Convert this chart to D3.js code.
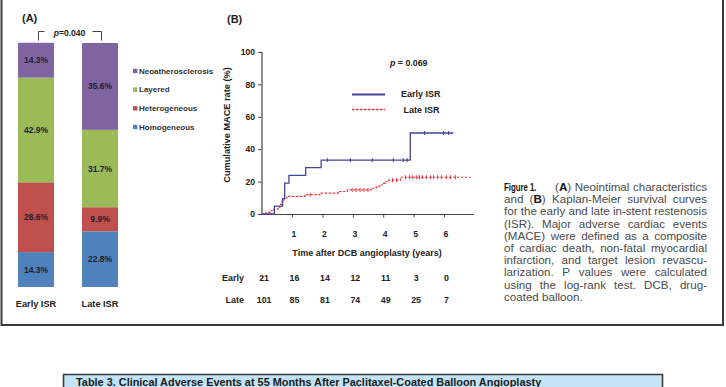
<!DOCTYPE html>
<html><head><meta charset="utf-8">
<script src="https://cdn.jsdelivr.net/npm/d3@7"></script>
<style>html,body{margin:0;padding:0;background:#fff;overflow:hidden;} svg{display:block;font-family:"Liberation Sans",Arial,Helvetica,sans-serif;}</style>
</head><body>
<svg id="c" width="726" height="387"></svg>
<script>
// ---------- Panel A data ----------
const categories = ["Early ISR", "Late ISR"];
const plaqueTypes = ["Homogeneous", "Heterogeneous", "Layered", "Neoatherosclerosis"]; // bottom -> top
const homogeneous = [14.3, 22.8];
const heterogeneous = [28.6, 9.9];
const layered = [42.9, 31.7];
const neoatherosclerosis = [14.3, 35.6];
const legendOrder = ["Neoatherosclerosis", "Layered", "Heterogeneous", "Homogeneous"];
const pValueA = "0.040";

// ---------- Panel B data ----------
const yearTicks = [1, 2, 3, 4, 5, 6];
const rateTicks = [0, 20, 40, 60, 80, 100];
const earlyTimes = [0, 0.42, 0.69, 0.76, 0.90, 1.45, 1.96, 4.89, 6.31];
const earlyRates = [0, 4.8, 9.5, 19.0, 23.8, 28.6, 33.3, 50.0, 50.0];
const earlyCensorTimes = [2.16, 2.92, 3.64, 4.33, 4.66, 4.79, 5.36, 5.98, 6.15];
const lateTimes = [0, 0.14, 0.27, 0.41, 0.54, 0.60, 0.67, 0.74, 0.83, 1.43, 1.92, 2.52, 2.82, 3.64, 3.77, 3.87, 3.97, 4.07, 4.17, 4.57, 6.88];
const lateRates = [0, 1.0, 2.0, 3.0, 4.0, 5.9, 7.9, 9.9, 10.9, 11.9, 12.9, 13.9, 14.9, 15.9, 16.9, 17.9, 18.9, 19.9, 20.9, 22.7, 22.7];
const lateCensorTimes = [1.6, 2.98, 3.11, 3.24, 3.37, 3.50, 4.31, 4.44, 4.73, 4.86, 4.96, 5.09, 5.19, 5.29, 5.42, 5.56, 5.65, 5.78, 5.91, 6.08, 6.21, 6.38];
const riskYears = [0, 1, 2, 3, 4, 5, 6];
const riskEarly = [21, 16, 14, 12, 11, 3, 0];
const riskLate = [101, 85, 81, 74, 49, 25, 7];
const pValueB = "0.069";

// ---------- Caption ----------
const captionLines = [
  "(**A**) Neointimal characteristics",
  "and (**B**) Kaplan-Meier survival curves",
  "for the early and late in-stent restenosis",
  "(ISR). Major adverse cardiac events",
  "(MACE) were defined as a composite",
  "of cardiac death, non-fatal myocardial",
  "infarction, and target lesion revascu-",
  "larization. P values were calculated",
  "using the log-rank test. DCB, drug-",
  "coated balloon."
];
const tableTitle = "Table 3.  Clinical Adverse Events at 55 Months After Paclitaxel-Coated Balloon Angioplasty";

const colors = {
  Homogeneous: "#4F81BD", Heterogeneous: "#C0504D", Layered: "#9BBB59", Neoatherosclerosis: "#8064A2"
};
const svg = d3.select("#c");

// ---------- Frame ----------
svg.append("path").attr("d", "M1.5,0 V325 H723 V0").attr("fill", "none").attr("stroke", "#3a3a3a").attr("stroke-width", 2);

// ---------- Panel A ----------
const seriesMap = { Homogeneous: homogeneous, Heterogeneous: heterogeneous, Layered: layered, Neoatherosclerosis: neoatherosclerosis };
const tableA = categories.map((c, i) => { const o = { cat: c }; plaqueTypes.forEach(t => o[t] = seriesMap[t][i]); return o; });
const stack = d3.stack().keys(plaqueTypes)(tableA);
const xA = d3.scaleBand().domain(categories).range([18, 118]).paddingInner(0.4375).paddingOuter(0);
const yA = d3.scaleLinear().domain([0, 100]).range([287, 43]);
const gA = svg.append("g");
stack.forEach(layer => {
  layer.forEach(d => {
    gA.append("rect").attr("x", xA(d.data.cat)).attr("width", xA.bandwidth())
      .attr("y", yA(d[1])).attr("height", yA(d[0]) - yA(d[1])).attr("fill", colors[layer.key]);
    gA.append("text").attr("x", xA(d.data.cat) + xA.bandwidth() / 2).attr("y", (yA(d[0]) + yA(d[1])) / 2)
      .attr("dy", "0.35em").attr("text-anchor", "middle").attr("font-size", 8.5).attr("font-weight", "bold")
      .attr("fill", "#1e1e2e").text((d[1] - d[0]).toFixed(1) + "%");
  });
});
categories.forEach(c => {
  gA.append("text").attr("x", xA(c) + xA.bandwidth() / 2).attr("y", 304).attr("dy", "0.35em")
    .attr("text-anchor", "middle").attr("font-size", 9.2).attr("font-weight", "bold").attr("fill", "#222").text(c);
});
gA.append("text").attr("x", 22).attr("y", 18).attr("dy", "0.35em").attr("font-size", 11).attr("font-weight", "bold").attr("fill", "#222").text("(A)");
// p bracket
gA.append("path").attr("d", "M38.5,40.5 V31.5 H44.5 M92.5,31.5 H101.5 V40.5").attr("fill", "none").attr("stroke", "#444").attr("stroke-width", 1);
const pA = gA.append("text").attr("x", 69.5).attr("y", 33).attr("dy", "0.35em").attr("text-anchor", "middle")
  .attr("font-size", 8.5).attr("font-weight", "bold").attr("fill", "#222");
pA.append("tspan").attr("font-style", "italic").text("p");
pA.append("tspan").text("=" + pValueA);
// legend A
const legY = d3.scalePoint().domain(legendOrder).range([71, 127]);
legendOrder.forEach(k => {
  gA.append("rect").attr("x", 133).attr("y", legY(k) - 2.2).attr("width", 4.4).attr("height", 4.4).attr("fill", colors[k]);
  gA.append("text").attr("x", 139).attr("y", legY(k)).attr("dy", "0.35em").attr("font-size", 8).attr("font-weight", "bold").attr("fill", "#333").text(k);
});

// ---------- Panel B ----------
const gB = svg.append("g");
const xB = d3.scaleLinear().domain([0, 7]).range([261.6, 474.4]);
const yB = d3.scaleLinear().domain([0, 100]).range([214, 52]);
gB.append("text").attr("x", 227).attr("y", 19).attr("dy", "0.35em").attr("font-size", 11).attr("font-weight", "bold").attr("fill", "#222").text("(B)");
// axes
const yAxis = gB.append("g").attr("transform", "translate(261.5,0)")
  .call(d3.axisLeft(yB).tickValues(rateTicks).tickSize(3.5).tickPadding(3));
const xAxis = gB.append("g").attr("transform", "translate(0,214.5)")
  .call(d3.axisBottom(xB).tickValues(yearTicks).tickFormat(d3.format("d")).tickSize(3).tickPadding(13).tickSizeOuter(0));
[yAxis, xAxis].forEach(a => {
  a.select(".domain").attr("stroke", "#444").attr("stroke-width", 1.2);
  a.selectAll(".tick line").attr("stroke", "#444");
  a.selectAll("text").attr("font-size", 8.6).attr("font-weight", "bold").attr("fill", "#222").attr("font-family", "Liberation Sans, Arial, sans-serif");
});
xAxis.select(".domain").attr("d", "M261.6,0H474");
xAxis.selectAll(".tick text").attr("dx", 1.5);
gB.append("text").attr("transform", "translate(227,125) rotate(-90)").attr("text-anchor", "middle").attr("dy", "0.35em")
  .attr("font-size", 9.2).attr("font-weight", "bold").attr("fill", "#222").text("Cumulative MACE rate (%)");
gB.append("text").attr("x", 367).attr("y", 253).attr("dy", "0.35em").attr("text-anchor", "middle")
  .attr("font-size", 9).attr("font-weight", "bold").attr("fill", "#222").text("Time after DCB angioplasty (years)");

// curves
const stepLine = d3.line().x(d => xB(d[0])).y(d => yB(d[1])).curve(d3.curveStepAfter);
const early = earlyTimes.map((t, i) => [t, earlyRates[i]]);
const late = lateTimes.map((t, i) => [t, lateRates[i]]);
const rateAt = (times, rates, t) => rates[Math.max(0, d3.bisectRight(times, t) - 1)];
const blue = "#44449a", red = "#e8343e";
gB.append("path").attr("d", stepLine(late)).attr("fill", "none").attr("stroke", red).attr("stroke-width", 1.2).attr("stroke-dasharray", "2.5,1.5");
gB.append("path").attr("d", stepLine(early)).attr("fill", "none").attr("stroke", blue).attr("stroke-width", 1.3);
lateCensorTimes.forEach(t => {
  const y = yB(rateAt(lateTimes, lateRates, t));
  gB.append("line").attr("x1", xB(t)).attr("x2", xB(t)).attr("y1", y - 2).attr("y2", y + 2).attr("stroke", red).attr("stroke-width", 1);
});
earlyCensorTimes.forEach(t => {
  const y = yB(rateAt(earlyTimes, earlyRates, t));
  gB.append("line").attr("x1", xB(t)).attr("x2", xB(t)).attr("y1", y - 2).attr("y2", y + 2).attr("stroke", blue).attr("stroke-width", 1);
});
// p value
const pB = gB.append("text").attr("x", 390).attr("y", 63).attr("dy", "0.35em").attr("font-size", 8.8).attr("font-weight", "bold").attr("fill", "#222");
pB.append("tspan").attr("font-style", "italic").text("p");
pB.append("tspan").text(" = " + pValueB);
// legend B
gB.append("line").attr("x1", 352).attr("x2", 385).attr("y1", 94.5).attr("y2", 94.5).attr("stroke", blue).attr("stroke-width", 1.8);
gB.append("line").attr("x1", 352).attr("x2", 385).attr("y1", 109.5).attr("y2", 109.5).attr("stroke", red).attr("stroke-width", 1.3).attr("stroke-dasharray", "2.5,1.5");
gB.append("text").attr("x", 401).attr("y", 94).attr("dy", "0.35em").attr("font-size", 9).attr("font-weight", "bold").attr("fill", "#222").text("Early ISR");
gB.append("text").attr("x", 403.5).attr("y", 109.5).attr("dy", "0.35em").attr("font-size", 9).attr("font-weight", "bold").attr("fill", "#222").text("Late ISR");
// risk table
[["Early", riskEarly, 278], ["Late", riskLate, 300]].forEach(([lab, vals, y]) => {
  gB.append("text").attr("x", 244).attr("y", y).attr("dy", "0.35em").attr("text-anchor", "end")
    .attr("font-size", 9).attr("font-weight", "bold").attr("fill", "#222").text(lab);
  vals.forEach((v, i) => {
    gB.append("text").attr("x", xB(riskYears[i]) + 2.5).attr("y", y).attr("dy", "0.35em").attr("text-anchor", "middle")
      .attr("font-size", 8.8).attr("font-weight", "bold").attr("fill", "#222").text(v);
  });
});

// ---------- Caption (justified, one text element) ----------
const capFont = 11.6, capLeft = 504, capRight = 707, capTop = 187, capLead = 12.2;
const capText = svg.append("text").attr("font-size", capFont).attr("fill", "#4a4a4a");
const measurer = svg.append("text").attr("font-size", capFont).attr("x", -1000).attr("y", -1000);
function fillWord(sel, word) {
  word.split(/(\*\*[^*]+\*\*)/).filter(s => s.length).forEach(s => {
    if (s.startsWith("**")) sel.append("tspan").attr("font-weight", "bold").attr("fill", "#111").text(s.slice(2, -2));
    else sel.append("tspan").text(s);
  });
}
function measure(word) {
  measurer.selectAll("*").remove();
  fillWord(measurer, word);
  return measurer.node().getComputedTextLength();
}
capText.append("tspan").attr("x", capLeft).attr("y", capTop + 4)
  .attr("font-size", 11.4).attr("font-weight", "bold").attr("fill", "#111")
  .attr("textLength", 32.5).attr("lengthAdjust", "spacingAndGlyphs").text("Figure 1.");
captionLines.forEach((line, li) => {
  const y = capTop + 4 + li * capLead;
  const left = li === 0 ? 555 : capLeft;
  const words = line.split(" ");
  const widths = words.map(measure);
  const total = d3.sum(widths);
  const last = li === captionLines.length - 1;
  const avail = capRight - left;
  const gap = (last || words.length < 2) ? capFont * 0.28 : (avail - total) / (words.length - 1);
  let x = left;
  words.forEach((w, i) => {
    const ws = capText.append("tspan").attr("x", x).attr("y", y);
    fillWord(ws, w);
    x += widths[i] + gap;
  });
});
measurer.remove();

// ---------- Table header at bottom ----------
const gT = svg.append("g");
gT.append("rect").attr("x", 63).attr("y", 374).attr("width", 600).attr("height", 20).attr("fill", "#c3e4f6");
gT.append("path").attr("d", "M63.5,394 V374.5 H662.5 V394").attr("fill", "none").attr("stroke", "#3a3a3a").attr("stroke-width", 1.6);
const tt = gT.append("text").attr("x", 76).attr("y", 385.5).attr("font-size", 10).attr("font-weight", "bold").attr("fill", "#1a1a1a").text(tableTitle);
const ttw = tt.node().getComputedTextLength();
tt.attr("font-size", 10 * 466 / ttw);
</script>
</body></html>
